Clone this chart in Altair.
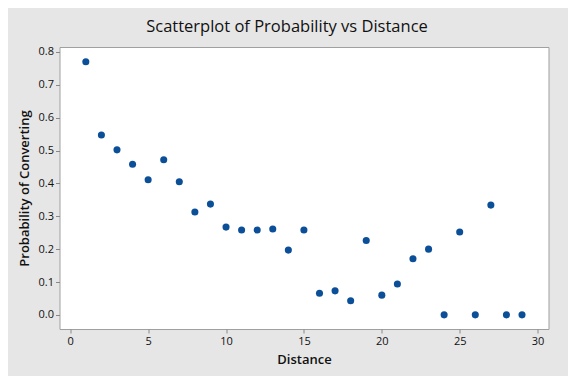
import altair as alt
import pandas as pd

distance = list(range(1, 30))
probability = [0.770, 0.547, 0.502, 0.458, 0.411, 0.472, 0.405, 0.313, 0.337, 0.267,
               0.258, 0.258, 0.261, 0.197, 0.258, 0.066, 0.073, 0.043, 0.226, 0.060,
               0.094, 0.171, 0.200, 0.0, 0.252, 0.0, 0.334, 0.0, 0.0]

df = pd.DataFrame({"Distance": distance, "Probability": probability})

FONT = "Open Sans"

chart = alt.Chart(df).mark_circle(size=50, color="#0c4f99", opacity=1).encode(
    x=alt.X("Distance:Q",
            scale=alt.Scale(domain=[-0.69, 30.7], nice=False, zero=False),
            axis=alt.Axis(title="Distance", values=[0, 5, 10, 15, 20, 25, 30],
                          format="d", grid=False, tickSize=4, labelPadding=2,
                          titlePadding=7, domain=False)),
    y=alt.Y("Probability:Q",
            scale=alt.Scale(domain=[-0.043, 0.815], nice=False, zero=False),
            axis=alt.Axis(title="Probability of Converting",
                          values=[0, 0.1, 0.2, 0.3, 0.4, 0.5, 0.6, 0.7, 0.8],
                          format=".1f", grid=False, tickSize=4, labelPadding=2,
                          titlePadding=7, domain=False)),
).properties(
    width=489, height=282,
    title=alt.TitleParams("Scatterplot of Probability vs Distance", fontSize=16.5,
                          font=FONT, fontWeight=500, color="#111111",
                          anchor="middle", dx=-17, offset=10),
    background="#e6e6e6",
    padding={"left": 51.5, "top": 39, "right": 19.5, "bottom": 47},
    autosize=alt.AutoSizeParams(type="none"),
).configure_view(
    fill="white", stroke="#a0a0a0", strokeWidth=1
).configure_axis(
    labelFont=FONT, titleFont=FONT, labelFontSize=11, titleFontSize=13,
    titleFontWeight=600, labelColor="#111111", titleColor="#111111",
    tickColor="#888888"
)

chart.save("out.html", embed_options={"renderer": "svg", "actions": False})
